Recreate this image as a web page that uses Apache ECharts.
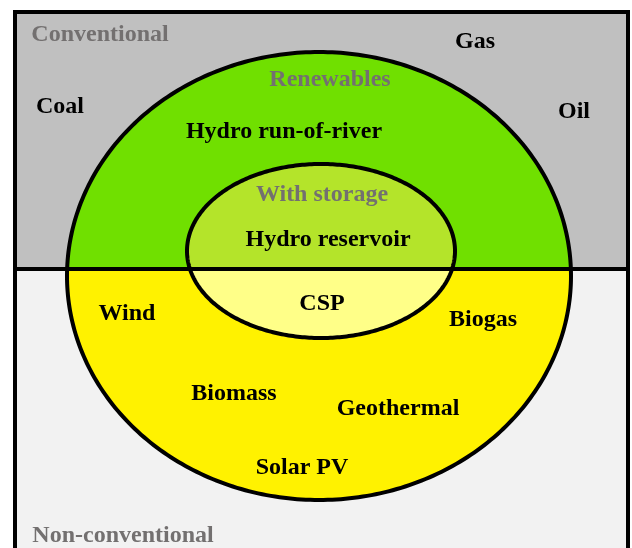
<!DOCTYPE html>
<html>
<head>
<meta charset="utf-8">
<style>
  html, body { margin: 0; padding: 0; background: #fff; }
  #chart { width: 632px; height: 548px; }
</style>
<script src="https://cdn.jsdelivr.net/npm/echarts@6/dist/echarts.min.js"></script>
</head>
<body>
<div id="chart"></div>
<script>
// background bands (x0, y0, x1, y1 in picture units)
const bandNames = ['Conventional', 'Non-conventional'];
const bandBoxes = [[15, 12, 628, 269], [15, 269, 628, 548]];
const splitY = 269;

// ellipses: outer = renewables, inner = with storage
const ellipseNames = ['Renewables', 'With storage'];
const ellipseCx = [319, 321];
const ellipseCy = [276, 251];
const ellipseRx = [252, 134];
const ellipseRy = [224, 87];

// group titles (gray)
const titleNames = ['Conventional', 'Renewables', 'With storage', 'Non-conventional'];
const titleX = [100, 330, 322, 123];
const titleY = [35, 80, 195, 536];

// technologies (black)
const techNames = ['Gas', 'Coal', 'Oil', 'Hydro run-of-river', 'Hydro reservoir', 'CSP',
  'Wind', 'Biogas', 'Biomass', 'Geothermal', 'Solar PV'];
const techX = [475, 60, 574, 284, 328, 322, 127, 483, 234, 398, 302];
const techY = [42, 107, 112, 132, 240, 304, 314, 320, 394, 409, 468];

const bandColors = ['#c0c0c0', '#f2f2f2'];
const topColors = ['#70e000', '#b4e42a'];
const bottomColors = ['#fff200', '#ffff88'];

function ellipsePoints(api, part) {
  const cx = api.value(0), cy = api.value(1), rx = api.value(2), ry = api.value(3);
  const pts = [];
  for (let i = 0; i < 360; i++) {
    const a = i / 360 * Math.PI * 2;
    let y = cy + ry * Math.sin(a);
    if (part === 'top') y = Math.min(y, splitY);
    if (part === 'bottom') y = Math.max(y, splitY);
    pts.push(api.coord([cx + rx * Math.cos(a), y]));
  }
  return pts;
}

function ellipseSeries(part, colors) {
  return {
    type: 'custom',
    data: ellipseNames.map((n, i) => ({ name: n, value: [ellipseCx[i], ellipseCy[i], ellipseRx[i], ellipseRy[i]] })),
    renderItem: function (params, api) {
      const pts = ellipsePoints(api, part);
      if (part === 'outline') {
        return { type: 'polygon', shape: { points: pts }, style: { fill: 'none', stroke: '#000', lineWidth: 4 } };
      }
      return { type: 'polygon', shape: { points: pts }, style: { fill: colors[params.dataIndex], stroke: 'none' } };
    }
  };
}

const labelFont = { fontFamily: 'Liberation Serif', fontWeight: 'bold', fontSize: 24 };

const chart = echarts.init(document.getElementById('chart'));
chart.setOption({
  animation: false,
  grid: { left: 0, right: 0, top: 0, bottom: 0 },
  xAxis: { type: 'value', min: 0, max: 632, show: false },
  yAxis: { type: 'value', min: 0, max: 548, inverse: true, show: false },
  series: [
    {
      type: 'custom',
      data: bandNames.map((n, i) => ({ name: n, value: bandBoxes[i] })),
      renderItem: function (params, api) {
        const p0 = api.coord([api.value(0), api.value(1)]);
        const p1 = api.coord([api.value(2), api.value(3)]);
        return {
          type: 'rect',
          shape: { x: p0[0], y: p0[1], width: p1[0] - p0[0], height: p1[1] - p0[1] },
          style: { fill: bandColors[params.dataIndex] }
        };
      }
    },
    ellipseSeries('top', topColors),
    ellipseSeries('bottom', bottomColors),
    {
      // frame and divider
      type: 'custom',
      data: [[15, 548, 15, 12, 628, 12, 628, 548], [15, splitY, 628, splitY]],
      renderItem: function (params, api) {
        const n = params.dataIndex === 0 ? 4 : 2;
        const pts = [];
        for (let i = 0; i < n; i++) pts.push(api.coord([api.value(2 * i), api.value(2 * i + 1)]));
        return { type: 'polyline', shape: { points: pts }, style: { stroke: '#000', lineWidth: 4, fill: 'none' } };
      }
    },
    ellipseSeries('outline'),
    {
      type: 'scatter',
      symbolSize: 0,
      itemStyle: { opacity: 1 },
      data: titleNames.map((n, i) => ({ name: n, value: [titleX[i], titleY[i]] })),
      label: Object.assign({ show: true, position: 'inside', formatter: '{b}', color: '#737070' }, labelFont)
    },
    {
      type: 'scatter',
      symbolSize: 0,
      itemStyle: { opacity: 1 },
      data: techNames.map((n, i) => ({ name: n, value: [techX[i], techY[i]] })),
      label: Object.assign({ show: true, position: 'inside', formatter: '{b}', color: '#000' }, labelFont)
    }
  ]
});
window.addEventListener('resize', () => chart.resize());
</script>
</body>
</html>
